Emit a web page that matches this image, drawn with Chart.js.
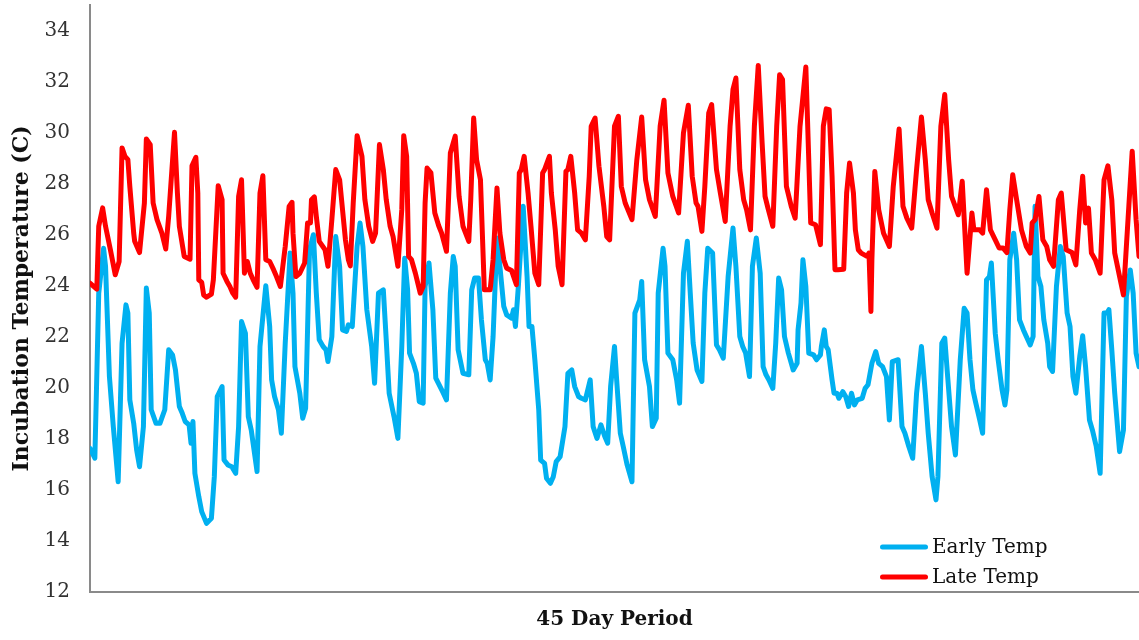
<!DOCTYPE html>
<html>
<head>
<meta charset="utf-8">
<title>Incubation Temperature</title>
<script src="https://cdn.jsdelivr.net/npm/chart.js@4.4.1/dist/chart.umd.min.js"></script>
<style>
    html, body { margin: 0; padding: 0; background: #fff; }
    #wrap { width: 1139px; height: 640px; }
</style>
</head>
<body>
<div id="wrap"><canvas id="canvas" width="1139" height="640"></canvas></div>
<script>
// readings over the 45 day period, x = hour of the period (0 - 1080)
var earlyHours = [0, 5, 9, 14, 16, 20, 24, 29, 33, 37, 39, 41, 45, 48, 51, 55, 58, 61, 63, 68,
    72, 77, 81, 85, 88, 92, 95, 98, 102, 104, 106, 108, 112, 115, 120, 125, 128, 131, 136, 138,
    142, 146, 150, 153, 156, 160, 163, 166, 172, 175, 181, 185, 187, 190, 194, 197, 201, 206, 209, 211,
    216, 219, 222, 226, 230, 233, 236, 240, 243, 245, 249, 253, 257, 260, 264, 266, 270, 275, 278, 281,
    285, 290, 293, 297, 302, 305, 308, 313, 317, 321, 324, 327, 329, 333, 336, 339, 343, 345, 349, 353,
    356, 363, 367, 371, 374, 376, 379, 384, 390, 393, 396, 400, 403, 407, 409, 412, 415, 419, 422, 426,
    429, 434, 436, 438, 441, 446, 450, 452, 455, 458, 462, 464, 468, 470, 474, 477, 480, 484, 489, 492,
    496, 499, 503, 506, 510, 515, 518, 522, 526, 530, 533, 536, 540, 542, 546, 549, 553, 558, 561, 566,
    568, 571, 576, 579, 583, 585, 590, 592, 595, 600, 604, 607, 611, 615, 618, 621, 625, 630, 633, 636,
    641, 645, 648, 652, 657, 662, 665, 669, 672, 675, 679, 682, 686, 690, 693, 696, 699, 703, 706, 709,
    712, 715, 719, 721, 724, 728, 729, 732, 734, 737, 740, 745, 748, 752, 753, 756, 758, 760, 764, 766,
    769, 771, 775, 778, 781, 784, 787, 790, 795, 798, 801, 805, 809, 812, 816, 820, 823, 826, 832, 836,
    839, 843, 847, 851, 856, 860, 863, 867, 871, 873, 877, 880, 883, 887, 891, 896, 900, 903, 906, 909,
    912, 916, 919, 923, 926, 928, 932, 935, 939, 942, 944, 947, 951, 954, 957, 961, 964, 968, 971, 973,
    976, 979, 982, 986, 988, 991, 995, 999, 1002, 1006, 1009, 1012, 1015, 1019, 1022, 1025, 1029, 1032, 1036, 1040,
    1044, 1047, 1049, 1052, 1055, 1060, 1064, 1067, 1071, 1074, 1077, 1080];
var earlyTemp = [17.63, 17.24, 23.71, 25.47, 24.76, 20.44, 18.48, 16.32, 21.75, 23.25, 22.93, 19.53, 18.61, 17.57, 16.91, 18.48, 23.91, 22.93, 19.14, 18.61,
    18.61, 19.14, 21.49, 21.29, 20.70, 19.27, 19.00, 18.68, 18.55, 17.83, 18.68, 16.65, 15.74, 15.15, 14.69, 14.89, 16.52, 19.66, 20.05, 17.17,
    16.98, 16.91, 16.65, 18.48, 22.60, 22.14, 18.87, 18.35, 16.72, 21.62, 24.00, 22.40, 20.31, 19.66, 19.14, 18.22, 21.75, 25.28, 23.71, 20.83,
    19.79, 18.81, 19.20, 25.41, 26.00, 23.71, 21.88, 21.62, 21.49, 21.03, 22.01, 25.93, 24.76, 22.27, 22.21, 22.47, 22.40, 25.54, 26.46, 25.54,
    23.06, 21.62, 20.18, 23.71, 23.84, 21.88, 19.79, 18.87, 18.02, 21.62, 25.08, 23.84, 21.36, 20.96, 20.57, 19.46, 19.40, 23.97, 24.89, 23.06,
    20.38, 19.85, 19.53, 23.71, 25.15, 24.76, 21.49, 20.57, 20.51, 23.84, 24.30, 24.30, 22.66, 21.10, 20.96, 20.31, 22.01, 25.87, 24.76, 23.19,
    22.86, 22.73, 23.06, 22.40, 23.97, 27.11, 24.36, 22.40, 22.40, 21.10, 19.14, 17.17, 17.04, 16.46, 16.26, 16.52, 17.11, 17.30, 18.48, 20.57,
    20.70, 20.05, 19.66, 19.59, 19.53, 20.31, 18.48, 18.02, 18.55, 18.09, 17.83, 20.05, 21.62, 20.44, 18.22, 17.70, 16.98, 16.32, 22.93, 23.45,
    24.17, 21.10, 20.05, 18.48, 18.81, 23.71, 25.47, 24.76, 21.36, 21.10, 20.31, 19.40, 24.49, 25.74, 23.71, 21.75, 20.70, 20.25, 23.71, 25.47,
    25.28, 21.68, 21.49, 21.16, 24.36, 26.26, 24.76, 22.01, 21.62, 21.36, 20.44, 24.76, 25.87, 24.49, 20.83, 20.51, 20.31, 19.98, 21.75, 24.30,
    23.84, 22.01, 21.36, 21.10, 20.70, 20.96, 22.27, 23.32, 25.02, 23.97, 21.36, 21.29, 21.10, 21.29, 21.62, 22.27, 21.62, 21.49, 20.31, 19.79,
    19.79, 19.59, 19.85, 19.66, 19.27, 19.79, 19.33, 19.53, 19.59, 19.98, 20.12, 20.96, 21.42, 20.96, 20.83, 20.44, 18.74, 21.03, 21.10, 18.48,
    18.22, 17.70, 17.24, 19.79, 21.62, 19.79, 18.22, 16.52, 15.61, 16.52, 21.75, 21.95, 20.44, 18.48, 17.37, 21.10, 23.12, 22.93, 21.10, 19.92,
    19.40, 18.74, 18.22, 24.23, 24.36, 24.89, 22.14, 21.10, 19.92, 19.33, 19.92, 25.02, 26.06, 25.02, 22.66, 22.27, 22.01, 21.68, 22.01, 27.11,
    24.36, 23.97, 22.66, 21.75, 20.83, 20.64, 23.97, 25.54, 25.15, 22.93, 22.40, 20.44, 19.79, 21.23, 22.04, 20.83, 18.74, 18.35, 17.70, 16.65,
    22.93, 22.93, 23.06, 21.49, 19.79, 17.50, 18.35, 23.58, 24.62, 23.71, 21.36, 20.83];

var lateHours = [0, 7, 9, 13, 16, 21, 26, 30, 33, 36, 39, 41, 45, 46, 51, 56, 58, 62, 65, 69,
    74, 78, 81, 87, 90, 92, 97, 103, 105, 109, 111, 112, 115, 117, 120, 125, 127, 132, 136, 137,
    141, 144, 147, 150, 153, 156, 159, 162, 165, 168, 172, 175, 178, 181, 185, 189, 192, 196, 201, 205,
    208, 209, 212, 216, 221, 224, 227, 228, 231, 233, 236, 242, 245, 249, 253, 257, 259, 263, 266, 268,
    271, 275, 280, 283, 287, 291, 294, 298, 302, 305, 309, 312, 317, 321, 323, 326, 328, 331, 335, 340,
    343, 345, 347, 351, 355, 359, 362, 367, 371, 376, 380, 384, 390, 392, 395, 398, 402, 406, 412, 415,
    419, 422, 426, 429, 434, 439, 442, 444, 447, 451, 454, 458, 462, 466, 468, 473, 475, 479, 482, 486,
    490, 492, 495, 499, 502, 506, 510, 514, 516, 520, 524, 529, 532, 535, 540, 544, 547, 551, 558, 563,
    568, 572, 576, 582, 587, 591, 595, 600, 606, 611, 616, 620, 624, 626, 630, 633, 637, 640, 645, 649,
    654, 659, 662, 665, 669, 673, 676, 680, 684, 688, 692, 695, 698, 703, 707, 710, 713, 717, 722, 726,
    731, 737, 740, 742, 747, 752, 755, 758, 761, 764, 767, 770, 776, 779, 782, 786, 788, 791, 794, 800,
    802, 804, 805, 808, 812, 817, 823, 827, 833, 837, 841, 846, 851, 856, 860, 863, 867, 872, 876, 880,
    884, 887, 894, 898, 903, 908, 910, 916, 919, 923, 927, 932, 936, 940, 944, 947, 950, 954, 959, 964,
    968, 970, 973, 977, 981, 985, 988, 992, 997, 1000, 1005, 1011, 1015, 1019, 1022, 1025, 1028, 1031, 1035, 1040,
    1044, 1048, 1052, 1055, 1060, 1064, 1067, 1073, 1077, 1080];
var lateTemp = [24.10, 23.87, 26.33, 27.05, 26.33, 25.41, 24.43, 24.95, 29.40, 29.07, 28.94, 27.89, 26.06, 25.74, 25.30, 27.24, 29.75, 29.53, 27.24, 26.59,
    26.06, 25.44, 26.72, 30.01, 27.63, 26.33, 25.15, 25.04, 28.70, 29.03, 27.63, 24.23, 24.13, 23.64, 23.55, 23.67, 24.23, 27.92, 27.37, 24.49,
    24.17, 23.97, 23.71, 23.55, 27.50, 28.15, 24.49, 24.95, 24.49, 24.23, 23.94, 27.63, 28.31, 25.02, 24.95, 24.63, 24.36, 23.97, 25.54, 27.11,
    27.27, 26.06, 24.36, 24.49, 24.89, 26.46, 26.46, 27.37, 27.48, 26.72, 25.74, 25.41, 24.76, 26.59, 28.55, 28.15, 27.37, 25.80, 25.02, 24.78,
    27.24, 29.88, 29.07, 27.37, 26.33, 25.74, 26.06, 29.53, 28.55, 27.37, 26.33, 25.93, 24.76, 26.98, 29.88, 29.07, 25.15, 25.02, 24.49, 23.71,
    23.97, 27.24, 28.61, 28.42, 26.85, 26.35, 26.06, 25.35, 29.20, 29.86, 27.50, 26.33, 25.74, 27.37, 30.57, 28.94, 28.15, 23.84, 23.84, 25.02,
    27.83, 26.06, 25.02, 24.69, 24.60, 24.04, 28.42, 28.55, 29.07, 27.63, 26.33, 24.49, 24.04, 28.42, 28.55, 29.07, 27.63, 26.19, 24.76, 24.04,
    28.48, 28.55, 29.07, 27.63, 26.19, 26.06, 25.80, 28.29, 30.25, 30.57, 28.68, 27.11, 25.93, 25.80, 30.25, 30.64, 27.89, 27.24, 26.59, 28.94,
    30.61, 28.15, 27.37, 26.72, 30.25, 31.27, 28.42, 27.50, 26.85, 29.99, 31.07, 28.29, 27.24, 27.11, 26.13, 27.89, 30.77, 31.10, 28.55, 27.63,
    26.52, 30.25, 31.69, 32.14, 28.55, 27.37, 26.98, 26.19, 30.25, 32.63, 29.59, 27.50, 27.04, 26.33, 30.25, 32.27, 32.08, 27.89, 27.11, 26.65,
    30.25, 32.57, 28.94, 26.46, 26.39, 25.61, 30.25, 30.93, 30.90, 28.29, 24.63, 24.63, 24.65, 27.63, 28.81, 27.63, 26.19, 25.41, 25.28, 25.15,
    25.28, 22.99, 25.02, 28.48, 26.98, 26.06, 25.54, 27.89, 30.14, 27.11, 26.65, 26.26, 28.55, 30.61, 28.94, 27.37, 26.85, 26.26, 30.25, 31.49,
    28.94, 27.50, 26.78, 28.09, 24.49, 26.85, 26.19, 26.19, 26.06, 27.76, 26.19, 25.80, 25.48, 25.48, 25.30, 26.98, 28.35, 27.37, 26.19, 25.54,
    25.28, 26.46, 26.59, 27.50, 25.80, 25.54, 25.02, 24.76, 27.37, 27.63, 25.41, 25.30, 24.82, 26.98, 28.29, 26.46, 27.04, 25.28, 25.02, 24.49,
    28.15, 28.70, 27.37, 25.28, 24.36, 23.64, 25.54, 29.27, 26.59, 25.15];

var yTicks = [12, 14, 16, 18, 20, 22, 24, 26, 28, 30, 32, 34];

function toPoints(xs, ys) {
    var pts = [];
    for (var i = 0; i < xs.length; i++) {
        pts.push({x: xs[i], y: ys[i]});
    }
    return pts;
}

// legend sits inside the plot, bottom right
var insideLegend = {
    id: 'insideLegend',
    afterDraw: function (chart) {
        var ctx = chart.ctx, area = chart.chartArea;
        var x0 = area.right - 259, y0 = area.bottom - 45;
        ctx.save();
        ctx.font = '20px "DejaVu Serif"';
        ctx.textBaseline = 'middle';
        chart.data.datasets.forEach(function (ds, i) {
            var y = y0 + i * 30;
            ctx.strokeStyle = ds.borderColor;
            ctx.lineWidth = 5;
            ctx.lineCap = 'round';
            ctx.beginPath();
            ctx.moveTo(x0 + 2.5, y);
            ctx.lineTo(x0 + 45.5, y);
            ctx.stroke();
            ctx.fillStyle = '#111';
            ctx.fillText(ds.label, x0 + 52, y + 1);
        });
        ctx.restore();
    }
};

var ctx = document.getElementById("canvas").getContext("2d");

var myChart = new Chart(ctx, {
    type: 'line',
    data: {
        datasets: [
            {
                label: 'Early Temp',
                data: toPoints(earlyHours, earlyTemp),
                borderColor: '#00B0F0',
                borderWidth: 5,
                borderJoinStyle: 'round',
                borderCapStyle: 'round',
                pointRadius: 0,
                tension: 0,
                order: 1
            },
            {
                label: 'Late Temp',
                data: toPoints(lateHours, lateTemp),
                borderColor: '#FF0000',
                borderWidth: 5,
                borderJoinStyle: 'round',
                borderCapStyle: 'round',
                pointRadius: 0,
                tension: 0,
                order: 0
            }
        ]
    },
    options: {
        responsive: false,
        animation: false,
        layout: {padding: {top: 5, left: 0, right: 0, bottom: 0}},
        plugins: {
            legend: {display: false},
            tooltip: {enabled: false}
        },
        scales: {
            x: {
                type: 'linear',
                min: 0,
                max: 1080,
                grid: {display: false, drawTicks: false},
                ticks: {display: false},
                border: {display: true, color: '#8a8a8a', width: 2},
                title: {
                    display: true,
                    text: '45 Day Period',
                    color: '#111',
                    font: {family: 'DejaVu Serif', size: 20, weight: 'bold'},
                    padding: {top: 0, bottom: 8}
                },
                afterFit: function (s) {
                    s.height = 48;
                    s.paddingLeft = 0;
                    s.paddingRight = 0;
                }
            },
            y: {
                min: 12,
                max: 35,
                afterBuildTicks: function (s) {
                    s.ticks = yTicks.map(function (v) { return {value: v}; });
                },
                grid: {display: false, drawTicks: false},
                border: {display: true, color: '#8a8a8a', width: 2},
                ticks: {
                    color: '#333',
                    padding: 20,
                    font: {family: 'DejaVu Serif', size: 20}
                },
                title: {
                    display: true,
                    text: 'Incubation Temperature (C)',
                    color: '#111',
                    font: {family: 'DejaVu Serif', size: 22, weight: 'bold'},
                    padding: {top: 9, bottom: 0}
                },
                afterFit: function (s) {
                    s.width = 90;
                    s.paddingTop = 0;
                    s.paddingBottom = 0;
                }
            }
        }
    },
    plugins: [insideLegend]
});
</script>
</body>
</html>
